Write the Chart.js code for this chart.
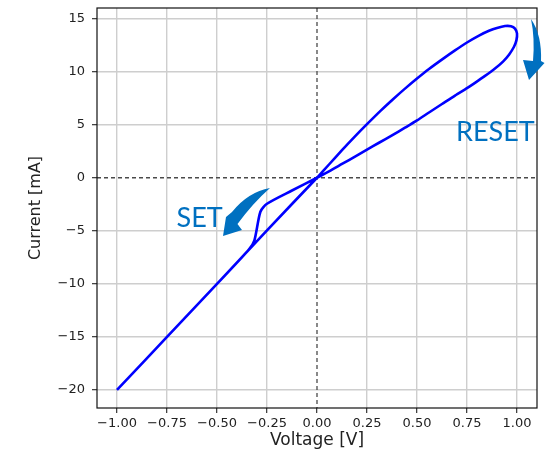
<!DOCTYPE html>
<html>
<head>
<meta charset="utf-8">
<script src="https://cdn.jsdelivr.net/npm/chart.js@4.4.0/dist/chart.umd.min.js"></script>
<style>
  html, body { margin: 0; padding: 0; background: #fff; }
  #chart { display: block; }
</style>
</head>
<body>
<canvas id="chart" width="548" height="451"></canvas>
<script>
// I-V sweep: 0 -> 1 V -> 0 -> -1 V -> 0
const voltage = [
  0, 0.06, 0.125, 0.19, 0.25, 0.32, 0.383, 0.44, 0.5, 0.56, 0.633, 0.69, 0.75, 0.81, 0.86, 0.9, 0.94, 0.97, 0.99, 1.0,
  0.997, 0.985, 0.96, 0.93, 0.89, 0.84, 0.79, 0.75, 0.69, 0.625, 0.56, 0.5, 0.44, 0.375, 0.31, 0.25, 0.19, 0.125, 0.06, 0,
  -0.125, -0.25, -0.283, -0.313, -0.34, -0.5, -0.75, -1.0,
  -0.75, -0.5, -0.25, 0
];
const current = [
  0, 1.25, 2.6, 3.9, 5.05, 6.35, 7.45, 8.4, 9.35, 10.25, 11.25, 12.0, 12.75, 13.4, 13.85, 14.12, 14.3, 14.28, 14.05, 13.6,
  12.95, 12.35, 11.6, 10.95, 10.3, 9.6, 8.95, 8.45, 7.75, 6.95, 6.15, 5.4, 4.72, 4.0, 3.3, 2.65, 2.0, 1.3, 0.6, 0,
  -1.2, -2.45, -3.2, -5.9, -6.75, -10.0, -15.0, -20.0,
  -15.0, -10.0, -4.95, 0
];
const xTicks = [-1, -0.75, -0.5, -0.25, 0, 0.25, 0.5, 0.75, 1];
const yTicks = [-20, -15, -10, -5, 0, 5, 10, 15];
const xTitle = 'Voltage [V]';
const yTitle = 'Current [mA]';
const setLabel = 'SET';
const resetLabel = 'RESET';

const noteColor = '#0070c0';
const gridColor = '#cecece';

function fmtTick(v, digits) {
  const s = Math.abs(v).toFixed(digits);
  return v < 0 ? '\u2212' + s : s;
}

const extras = {
  id: 'extras',
  beforeDatasetsDraw(chart) {
    const {ctx, chartArea: a, scales: {x, y}} = chart;
    ctx.save();
    ctx.strokeStyle = '#4a4a4a';
    ctx.lineWidth = 1.3;
    ctx.setLineDash([4, 3]);
    const x0 = x.getPixelForValue(0);
    const y0 = y.getPixelForValue(0);
    ctx.beginPath();
    ctx.moveTo(x0, a.top); ctx.lineTo(x0, a.bottom);
    ctx.moveTo(a.left, y0); ctx.lineTo(a.right, y0);
    ctx.stroke();
    ctx.restore();
  },
  afterDraw(chart) {
    const {ctx, chartArea: a} = chart;
    ctx.save();
    ctx.strokeStyle = '#111';
    ctx.lineWidth = 1.2;
    ctx.strokeRect(a.left, a.top, a.right - a.left, a.bottom - a.top);

    // curved arrows
    ctx.fillStyle = noteColor;
    ctx.beginPath();
    ctx.moveTo(531, 19);
    ctx.quadraticCurveTo(542, 35, 541, 61);
    ctx.lineTo(544.5, 63);
    ctx.lineTo(529, 80);
    ctx.lineTo(523, 60);
    ctx.lineTo(533, 61);
    ctx.quadraticCurveTo(535, 38, 531, 19);
    ctx.closePath();
    ctx.fill();

    ctx.beginPath();
    ctx.moveTo(270, 188);
    ctx.quadraticCurveTo(248, 192, 232, 212);
    ctx.lineTo(226, 217);
    ctx.lineTo(223, 236);
    ctx.lineTo(242, 230);
    ctx.lineTo(237.5, 224);
    ctx.quadraticCurveTo(253, 203, 270, 188);
    ctx.closePath();
    ctx.fill();

    ctx.font = '27px Lato';
    ctx.textBaseline = 'alphabetic';
    ctx.textAlign = 'left';
    ctx.fillText(setLabel, 176.5, 226.5);
    ctx.fillText(resetLabel, 456, 140.5);
    ctx.restore();
  }
};

document.addEventListener('DOMContentLoaded', function() {
  const chartCanvas = document.querySelector('#chart');
  const points = voltage.map((v, i) => ({x: v, y: current[i]}));

  new Chart(chartCanvas.getContext('2d'), {
    type: 'scatter',
    data: {
      datasets: [{
        data: points,
        showLine: true,
        borderColor: '#0000ff',
        borderWidth: 2.6,
        pointRadius: 0,
        tension: 0.25,
        fill: false
      }]
    },
    options: {
      responsive: false,
      animation: false,
      layout: { padding: { top: 8, right: 11, left: 0, bottom: 0 } },
      plugins: { legend: { display: false }, tooltip: { enabled: false } },
      scales: {
        x: {
          type: 'linear',
          min: -1.1,
          max: 1.1,
          afterBuildTicks: s => { s.ticks = xTicks.map(v => ({value: v})); },
          afterFit: s => { s.height = 43; s.paddingLeft = 0; s.paddingRight = 0; },
          grid: {
            color: c => (c.tick && c.tick.value === 0) ? 'rgba(0,0,0,0)' : gridColor,
            lineWidth: 1.4,
            tickColor: '#222',
            tickLength: 5,
            tickWidth: 1.1
          },
          border: { display: false },
          ticks: {
            padding: 2.5,
            color: '#222',
            maxRotation: 0,
            autoSkip: false,
            font: { family: 'DejaVu Sans', size: 13 },
            callback: v => fmtTick(v, 2)
          },
          title: {
            display: true,
            text: xTitle,
            color: '#222',
            padding: { top: 0, bottom: 0 },
            font: { family: 'DejaVu Sans', size: 17 }
          }
        },
        y: {
          type: 'linear',
          min: -21.7,
          max: 16.0,
          afterBuildTicks: s => { s.ticks = yTicks.map(v => ({value: v})); },
          afterFit: s => { s.width = 97; s.paddingTop = 0; s.paddingBottom = 0; },
          grid: {
            color: c => (c.tick && c.tick.value === 0) ? 'rgba(0,0,0,0)' : gridColor,
            lineWidth: 1.4,
            tickColor: '#222',
            tickLength: 5,
            tickWidth: 1.1
          },
          border: { display: false },
          ticks: {
            padding: 7,
            color: '#222',
            autoSkip: false,
            font: { family: 'DejaVu Sans', size: 13 },
            callback: v => fmtTick(v, 0)
          },
          title: {
            display: true,
            text: yTitle,
            color: '#222',
            padding: { top: 26, bottom: 0 },
            font: { family: 'DejaVu Sans', size: 16 }
          }
        }
      }
    },
    plugins: [extras]
  });
});
</script>
</body>
</html>
